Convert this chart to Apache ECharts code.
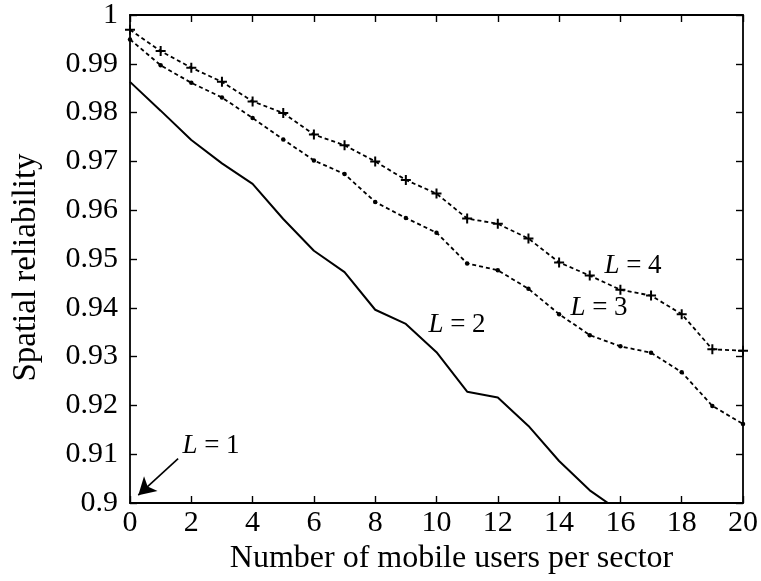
<!DOCTYPE html>
<html>
<head>
<meta charset="utf-8">
<script src="https://cdn.jsdelivr.net/npm/echarts@6/dist/echarts.min.js"></script>
<style>
  html, body { margin: 0; padding: 0; background: #fff; }
  #main { width: 761px; height: 581px; }
</style>
</head>
<body>
<div id="main"></div>
<script>
var chartDom = document.getElementById('main');
var myChart = echarts.init(chartDom);
var option;

// Number of mobile users per sector (x axis)
const users = [0, 1, 2, 3, 4, 5, 6, 7, 8, 9, 10, 11, 12, 13, 14, 15, 16, 17, 18, 19, 20];
// Spatial reliability
const relL2 = [0.9863, 0.9804, 0.9744, 0.9696, 0.9654, 0.9582, 0.9517, 0.9473, 0.9396, 0.9367,
               0.9309, 0.9228, 0.9216, 0.9158, 0.9086, 0.9026, 0.8982];
const relL3 = [0.9950, 0.9897, 0.9861, 0.9831, 0.9789, 0.9745, 0.9702, 0.9674, 0.9617, 0.9584,
               0.9554, 0.9491, 0.9477, 0.9439, 0.9387, 0.9344, 0.9321, 0.9308, 0.9268, 0.9199, 0.9162];
const relL4 = [0.9970, 0.9926, 0.9892, 0.9863, 0.9823, 0.9799, 0.9755, 0.9733, 0.9700, 0.9662,
               0.9634, 0.9583, 0.9572, 0.9542, 0.9493, 0.9466, 0.9437, 0.9425, 0.9387, 0.9315, 0.9312];
// the L = 1 curve sits at the origin, shown only by an arrow
const arrowL1 = [[1.57, 0.9091], [0.27, 0.9016]];

function pairs(vals) {
  return vals.map(function (v, i) { return [users[i], v]; });
}

const FONT = 'Liberation Serif';
const plusPath = 'path://M4,0H6V4H10V6H6V10H4V6H0V4H4Z';

function frameAxis(pos, isX) {
  return {
    type: 'value',
    position: pos,
    min: isX ? 0 : 0.9,
    max: isX ? 20 : 1,
    interval: isX ? 2 : 0.01,
    axisLine: { show: true, onZero: false, lineStyle: { color: '#000', width: 1.8 } },
    axisTick: { show: true, inside: true, length: 7, lineStyle: { color: '#000', width: 1.4 } },
    axisLabel: { show: false },
    splitLine: { show: false }
  };
}

function lab(text) {
  return {
    text: '{i|L} = ' + text,
    font: '27px ' + FONT,
    fill: '#000',
    rich: { i: { fontStyle: 'italic', fontFamily: FONT, fontSize: 27 } },
    textAlign: 'center',
    textVerticalAlign: 'middle'
  };
}

option = {
  animation: false,
  backgroundColor: '#fff',
  grid: { left: 130, right: 14, top: 10, bottom: 78 },
  xAxis: [
    Object.assign(frameAxis('bottom', true), {
      name: 'Number of mobile users per sector',
      nameLocation: 'middle',
      nameGap: 36,
      nameTextStyle: { fontFamily: FONT, fontSize: 32, color: '#000', padding: [0, 0, 0, 30] },
      axisLabel: { show: true, margin: 5, fontFamily: FONT, fontSize: 30, color: '#000' }
    }),
    frameAxis('top', true)
  ],
  yAxis: [
    Object.assign(frameAxis('left', false), {
      name: 'Spatial reliability',
      nameLocation: 'middle',
      nameGap: 87,
      nameTextStyle: { fontFamily: FONT, fontSize: 33, color: '#000', padding: [0, 17, 0, 0] },
      axisLabel: {
        show: true, margin: 12, fontFamily: FONT, fontSize: 30, color: '#000',
        formatter: function (v) { return String(+v.toFixed(2)); }
      }
    }),
    frameAxis('right', false)
  ],
  series: [
    {
      name: 'L = 2',
      type: 'line',
      data: pairs(relL2),
      showSymbol: false,
      lineStyle: { color: '#000', width: 2 },
      markLine: {
        silent: true,
        symbol: ['none', 'arrow'],
        symbolSize: [15, 17],
        label: { show: false },
        lineStyle: { color: '#000', width: 1.6, type: 'solid' },
        data: [[{ coord: arrowL1[0] }, { coord: arrowL1[1] }]]
      }
    },
    {
      name: 'L = 3',
      type: 'line',
      data: pairs(relL3),
      symbol: 'circle',
      symbolSize: 4.5,
      itemStyle: { color: '#000' },
      lineStyle: { color: '#000', width: 1.8, type: [4, 3] }
    },
    {
      name: 'L = 4',
      type: 'line',
      data: pairs(relL4),
      symbol: plusPath,
      symbolSize: 10,
      itemStyle: { color: '#000' },
      lineStyle: { color: '#000', width: 1.8, type: [4, 3] }
    }
  ],
  graphic: [
    { type: 'text', x: 211, y: 446, style: lab('1') },
    { type: 'text', x: 457, y: 325, style: lab('2') },
    { type: 'text', x: 599, y: 308, style: lab('3') },
    { type: 'text', x: 633, y: 266, style: lab('4') }
  ]
};

option && myChart.setOption(option);
</script>
</body>
</html>
